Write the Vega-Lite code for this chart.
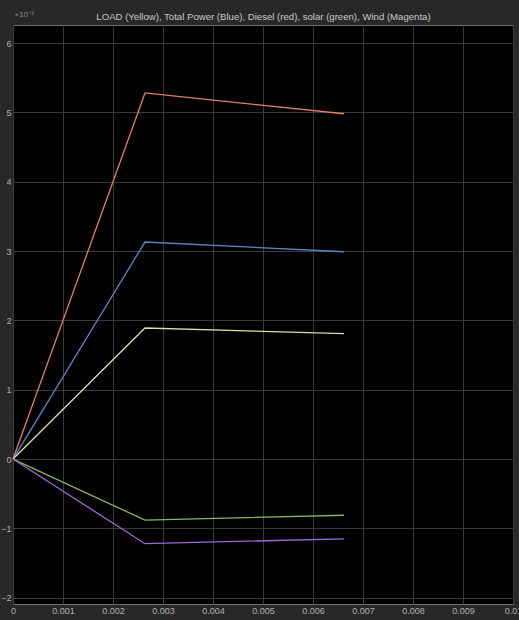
{
  "$schema": "https://vega.github.io/schema/vega-lite/v6.json",
  "width": 500,
  "height": 579,
  "autosize": {"type": "none"},
  "padding": {"left": 13, "top": 25, "right": 6, "bottom": 16},
  "background": "#282828",
  "config": {
    "view": {"fill": "#000000", "stroke": "#707070", "strokeWidth": 1},
    "axis": {
      "labelFont": "Liberation Sans Narrow, Liberation Sans, sans-serif",
      "labelFontSize": 9,
      "labelColor": "#b0b0b0",
      "gridColor": "#3a3a3a",
      "gridWidth": 1,
      "gridOpacity": 1,
      "domain": false,
      "ticks": false
    }
  },
  "data": {
    "values": [
      {"series": "Diesel", "t": 0, "v": 0},
      {"series": "Diesel", "t": 0.00264, "v": 5.28},
      {"series": "Diesel", "t": 0.00662, "v": 4.98},
      {"series": "Total Power", "t": 0, "v": 0},
      {"series": "Total Power", "t": 0.00264, "v": 3.13},
      {"series": "Total Power", "t": 0.00662, "v": 2.99},
      {"series": "LOAD", "t": 0, "v": 0},
      {"series": "LOAD", "t": 0.00264, "v": 1.89},
      {"series": "LOAD", "t": 0.00662, "v": 1.81},
      {"series": "solar", "t": 0, "v": 0},
      {"series": "solar", "t": 0.00264, "v": -0.88},
      {"series": "solar", "t": 0.00662, "v": -0.81},
      {"series": "Wind", "t": 0, "v": 0},
      {"series": "Wind", "t": 0.00264, "v": -1.22},
      {"series": "Wind", "t": 0.00662, "v": -1.15}
    ]
  },
  "mark": {"type": "line", "strokeWidth": 1.3},
  "encoding": {
    "x": {
      "field": "t",
      "type": "quantitative",
      "scale": {"domain": [0, 0.01], "nice": false, "zero": false},
      "axis": {
        "title": "LOAD (Yellow), Total Power (Blue), Diesel (red), solar (green), Wind (Magenta)",
        "titleFont": "Liberation Sans Narrow, Liberation Sans, sans-serif",
        "titleFontSize": 9.6,
        "titleFontWeight": "normal",
        "titleColor": "#c8c8c8",
        "titleX": 250,
        "titleY": -583,
        "titleAlign": "center",
        "titleBaseline": "bottom",
        "values": [0, 0.001, 0.002, 0.003, 0.004, 0.005, 0.006, 0.007, 0.008, 0.009, 0.01],
        "format": "~g",
        "labelFlush": false,
        "labelPadding": 2
      }
    },
    "y": {
      "field": "v",
      "type": "quantitative",
      "scale": {"domain": [-2.09, 6.26], "nice": false, "zero": false},
      "axis": {
        "values": [-2, -1, 0, 1, 2, 3, 4, 5, 6],
        "format": "d",
        "labelPadding": 2,
        "title": "×10⁻³",
        "titleAngle": 0,
        "titleAlign": "left",
        "titleBaseline": "bottom",
        "titleX": 1,
        "titleY": -7,
        "titleFont": "Liberation Sans Narrow, Liberation Sans, sans-serif",
        "titleFontSize": 8,
        "titleFontWeight": "normal",
        "titleColor": "#8a8a8a"
      }
    },
    "color": {
      "field": "series",
      "type": "nominal",
      "scale": {
        "domain": ["Diesel", "Total Power", "LOAD", "solar", "Wind"],
        "range": ["#e2806a", "#5a86c8", "#dede9a", "#86b85a", "#a068d8"]
      },
      "legend": null
    },
    "order": {"field": "t", "type": "quantitative"}
  }
}
